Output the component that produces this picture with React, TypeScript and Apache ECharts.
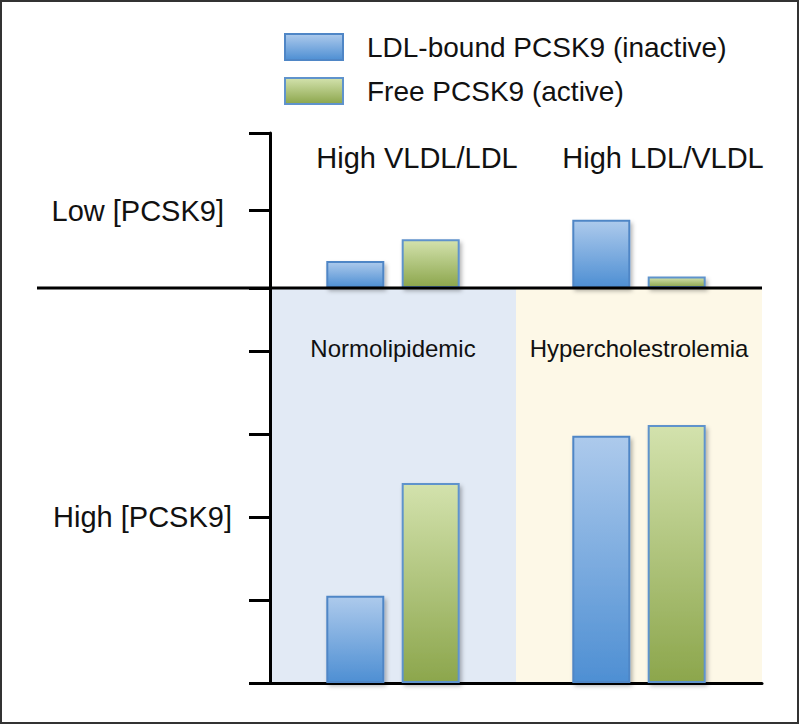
import * as echarts from "echarts";
import React, { useEffect, useRef } from "react";

// data
const legendNames = ["LDL-bound PCSK9 (inactive)", "Free PCSK9 (active)"];
const lowCategories = ["High VLDL/LDL", "High LDL/VLDL"];
const highCategories = ["Normolipidemic", "Hypercholestrolemia"];
const lowBound = [0.35, 0.88];
const lowFree = [0.63, 0.15];
const highBound = [1.05, 2.98];
const highFree = [2.41, 3.11];
const lowTickLabels = ["", "Low [PCSK9]", ""];
const highTickLabels = ["", "", "High [PCSK9]", "", ""];

const FONT = "'Liberation Sans', Arial, sans-serif";

const blueStyle = {
  color: new echarts.graphic.LinearGradient(0, 0, 0, 1, [
    { offset: 0, color: "#adcaec" },
    { offset: 1, color: "#4e8fd3" },
  ]),
  borderColor: "#4f86c6",
  borderWidth: 2,
  shadowBlur: 4,
  shadowOffsetX: 2,
  shadowOffsetY: 3,
  shadowColor: "rgba(0,0,0,0.3)",
};

const greenStyle = {
  color: new echarts.graphic.LinearGradient(0, 0, 0, 1, [
    { offset: 0, color: "#d3e2ad" },
    { offset: 1, color: "#8ca64c" },
  ]),
  borderColor: "#5f93cc",
  borderWidth: 2,
  shadowBlur: 4,
  shadowOffsetX: 2,
  shadowOffsetY: 3,
  shadowColor: "rgba(0,0,0,0.3)",
};

const axisLine = {
  show: true,
  lineStyle: { color: "#000", width: 3 },
};

const axisTick = {
  show: true,
  length: 21,
  lineStyle: { color: "#000", width: 3 },
};

export default function App() {
  const chartRef = useRef<HTMLDivElement>(null);

  useEffect(() => {
    if (!chartRef.current) return;
    const chart = echarts.init(chartRef.current, null, { renderer: "svg" });

    const option = {
      animation: false,
      backgroundColor: "#fff",
      textStyle: { fontFamily: FONT, color: "#111" },
      legend: {
        data: legendNames,
        orient: "vertical",
        left: 284,
        top: 33,
        padding: 0,
        icon: "rect",
        itemWidth: 58,
        itemHeight: 26,
        itemGap: 16,
        selectedMode: false,
        textStyle: {
          fontSize: 28,
          color: "#111",
          fontFamily: FONT,
          padding: [0, 0, 0, 19],
        },
      },
      grid: [
        { left: 270, right: 38, top: 133, height: 155 },
        { left: 270, right: 38, top: 288, height: 395 },
      ],
      xAxis: [
        {
          type: "category",
          gridIndex: 0,
          position: "bottom",
          data: lowCategories,
          axisLine: { show: false },
          axisTick: { show: false },
          axisLabel: { show: false },
        },
        {
          type: "category",
          gridIndex: 0,
          position: "top",
          data: lowCategories,
          axisLine: { show: false },
          axisTick: { show: false },
          axisLabel: {
            inside: true,
            interval: 0,
            margin: 25,
            verticalAlign: "middle",
            padding: [0, 0, 0, 48],
            fontSize: 29,
            color: "#111",
            fontFamily: FONT,
          },
        },
        {
          type: "category",
          gridIndex: 1,
          position: "bottom",
          data: highCategories,
          axisLine: {
            show: true,
            lineStyle: { color: "#000", width: 3 },
          },
          axisTick: { show: false },
          axisLabel: { show: false },
          splitArea: {
            show: true,
            areaStyle: { color: ["#e2eaf5", "#fdf8e7"] },
          },
        },
        {
          type: "category",
          gridIndex: 1,
          position: "top",
          data: highCategories,
          axisLine: { show: false },
          axisTick: { show: false },
          axisLabel: {
            inside: true,
            interval: 0,
            margin: 60,
            verticalAlign: "middle",
            fontSize: 24,
            color: "#111",
            fontFamily: FONT,
          },
        },
      ],
      yAxis: [
        {
          type: "value",
          gridIndex: 0,
          min: 0,
          max: 2,
          interval: 1,
          axisLine,
          axisTick,
          splitLine: { show: false },
          axisLabel: {
            margin: 46,
            fontSize: 29,
            color: "#111",
            fontFamily: FONT,
            formatter: (v: number) => lowTickLabels[v] ?? "",
          },
        },
        {
          type: "value",
          gridIndex: 1,
          min: 0,
          max: 4.76,
          interval: 1,
          axisLine,
          axisTick,
          splitLine: { show: false },
          axisLabel: {
            margin: 38,
            fontSize: 29,
            color: "#111",
            fontFamily: FONT,
            formatter: (v: number) => highTickLabels[v] ?? "",
          },
        },
      ],
      series: [
        {
          name: legendNames[0],
          type: "bar",
          xAxisIndex: 0,
          yAxisIndex: 0,
          data: lowBound,
          barWidth: 58,
          barGap: "30%",
          itemStyle: blueStyle,
        },
        {
          name: legendNames[1],
          type: "bar",
          xAxisIndex: 0,
          yAxisIndex: 0,
          data: lowFree,
          barWidth: 58,
          barGap: "30%",
          itemStyle: greenStyle,
        },
        {
          name: legendNames[0],
          type: "bar",
          xAxisIndex: 2,
          yAxisIndex: 1,
          data: highBound,
          barWidth: 58,
          barGap: "30%",
          itemStyle: blueStyle,
        },
        {
          name: legendNames[1],
          type: "bar",
          xAxisIndex: 2,
          yAxisIndex: 1,
          data: highFree,
          barWidth: 58,
          barGap: "30%",
          itemStyle: greenStyle,
        },
      ],
      graphic: [
        {
          type: "line",
          z: 100,
          shape: { x1: 37, y1: 288, x2: 762, y2: 288 },
          style: { stroke: "#000", lineWidth: 3 },
        },
        {
          type: "rect",
          z: 100,
          shape: { x: 1, y: 1, width: 797, height: 722 },
          style: { fill: "none", stroke: "#333", lineWidth: 2 },
        },
      ],
    };

    chart.setOption(option);
    return () => {
      chart.dispose();
    };
  }, []);

  return (
    <div
      ref={chartRef}
      style={{ position: "fixed", left: 0, top: 0, width: "800px", height: "726px" }}
    ></div>
  );
}
